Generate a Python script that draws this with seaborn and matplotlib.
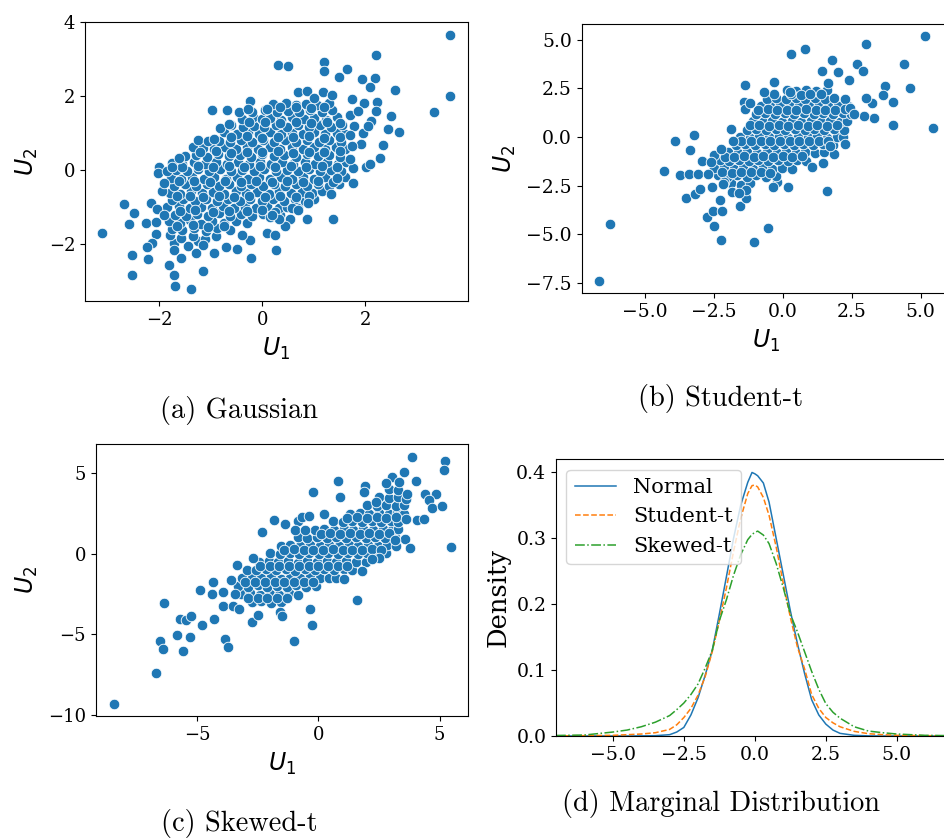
import matplotlib
matplotlib.use("Agg")
import matplotlib.pyplot as plt
import numpy as np
import pandas as pd
import seaborn as sns

# ---------------- data ----------------
gauss_outer = [
    (-3.11,-1.69),(-2.69,-0.90),(-2.49,-1.15),(-2.58,-1.46),(-2.52,-2.30),(-2.53,-2.83),(-2.22,-2.39),
    (-2.15,-0.87),(-2.26,-1.43),(-2.06,-1.40),(-2.06,-1.72),(-2.14,-1.97),(-2.24,-2.06),(-2.05,-1.05),
    (-2.01,0.10),(-2.03,-0.06),(-1.84,-0.02),(-1.76,0.10),(-1.81,-2.56),(-1.71,-2.15),(-1.71,-2.83),
    (-1.70,-3.12),(-1.57,-2.38),(-1.39,-3.20),(-1.15,-2.72),(-0.94,-2.23),(-1.61,0.34),(-0.98,1.62),
    (-0.68,1.63),(-0.45,1.58),(-0.23,1.87),(-0.28,1.66),(0.10,1.66),(0.31,2.86),(0.49,2.83),(-0.83,1.14),
    (-0.94,0.85),(-0.64,1.25),(-0.49,-2.13),(-0.21,-2.37),(0.27,-2.16),(-0.23,-1.87),(0.10,-1.70),
    (-0.70,-2.06),(-1.29,-2.23),(-1.15,-2.02),(3.64,3.66),(3.64,2.00),(3.33,1.58),(2.21,3.12),(1.20,2.92),
    (1.20,2.69),(1.65,2.74),(1.48,2.53),(1.93,2.48),(2.19,2.51),(2.09,2.26),(2.57,2.18),(2.23,1.85),
    (2.49,1.48),(2.65,1.05),(2.44,1.12),(2.35,0.68),(2.29,0.34),(2.01,0.08),(1.76,0.06),(2.08,0.18),
    (1.37,-1.31),(0.87,-1.31),(0.69,2.11),(0.87,2.14),(1.17,2.12),(1.74,1.92),(1.97,1.83),(2.11,1.34),
    (1.92,0.71),(1.74,0.66),(1.44,-0.21),(1.33,-0.63),(0.88,-0.87),(0.57,-1.01),(0.70,-1.07),(0.54,-1.31),
    (0.44,-1.50),(0.25,-1.74),(0.32,-1.32),(0.18,-1.21),(1.00,1.95),(1.35,2.05),(1.70,1.50),(1.78,1.20),
    (1.85,1.60),(2.20,1.60),(1.95,1.00),(2.05,1.20),(1.70,0.30),(1.70,0.95),(1.75,-0.35),(-0.40,-1.75),
    (-1.90,-1.20),(-1.95,-0.55),(-1.90,-0.35),
]
gauss_core = [
    (-1.72,-1.95),(-1.45,-2.05),(-1.25,-1.92),
    (-1.80,-1.75),(-1.58,-1.82),(-1.35,-1.78),(-1.12,-1.85),(-0.90,-1.76),
    (-1.75,-1.58),(-1.55,-1.62),(-1.32,-1.55),(-1.10,-1.63),(-0.88,-1.57),(-0.62,-1.60),
    (-1.82,-1.38),(-1.60,-1.42),(-1.40,-1.35),(-1.18,-1.44),(-0.97,-1.37),(-0.75,-1.42),(-0.52,-1.36),(-0.30,-1.43),
    (-1.70,-1.20),(-1.48,-1.24),(-1.27,-1.17),(-1.05,-1.22),(-0.84,-1.16),(-0.62,-1.23),(-0.41,-1.18),(-0.20,-1.22),
    (0.02,-1.17),(0.15,-1.25),(0.35,-1.20),
    (-1.85,-1.00),(-1.62,-0.97),(-1.40,-1.03),(-1.19,-0.98),(-0.98,-1.02),(-0.76,-0.96),(-0.55,-1.03),(-0.33,-0.99),
    (-0.12,-1.02),(0.10,-0.97),(0.32,-1.03),(0.48,-0.98),(0.70,-1.02),
    (-1.75,-0.80),(-1.53,-0.77),(-1.30,-0.83),(-1.09,-0.78),(-0.87,-0.82),(-0.66,-0.77),(-0.44,-0.83),(-0.23,-0.78),
    (-0.01,-0.82),(0.20,-0.77),(0.42,-0.83),(0.63,-0.78),(0.82,-0.82),(1.00,-0.78),
    (-1.80,-0.60),(-1.60,-0.63),(-1.38,-0.57),(-1.17,-0.62),(-0.95,-0.58),(-0.74,-0.63),(-0.52,-0.57),(-0.31,-0.62),
    (-0.10,-0.58),(0.12,-0.63),(0.33,-0.57),(0.55,-0.62),(0.76,-0.58),(0.97,-0.62),(1.15,-0.57),
    (-1.72,-0.42),(-1.50,-0.37),(-1.28,-0.43),(-1.07,-0.38),(-0.85,-0.42),(-0.64,-0.37),(-0.42,-0.43),(-0.21,-0.38),
    (0.01,-0.42),(0.22,-0.37),(0.44,-0.43),(0.65,-0.38),(0.87,-0.42),(1.08,-0.37),(1.30,-0.43),(1.48,-0.38),
    (-1.78,-0.20),(-1.57,-0.23),(-1.36,-0.17),(-1.14,-0.22),(-0.93,-0.18),(-0.71,-0.23),(-0.50,-0.17),(-0.28,-0.22),
    (-0.07,-0.18),(0.15,-0.23),(0.36,-0.17),(0.58,-0.22),(0.79,-0.18),(1.01,-0.23),(1.22,-0.17),(1.44,-0.22),(1.60,-0.18),
    (-1.68,0.02),(-1.46,-0.03),(-1.25,0.03),(-1.03,-0.02),(-0.82,0.03),(-0.60,-0.03),(-0.39,0.02),(-0.17,-0.02),
    (0.04,0.03),(0.26,-0.03),(0.47,0.02),(0.69,-0.02),(0.90,0.03),(1.12,-0.03),(1.33,0.02),(1.52,-0.02),
    (-1.76,0.20),(-1.55,0.17),(-1.33,0.23),(-1.12,0.18),(-0.90,0.22),(-0.69,0.17),(-0.47,0.23),(-0.26,0.18),
    (-0.04,0.22),(0.17,0.17),(0.39,0.23),(0.60,0.18),(0.82,0.22),(1.03,0.17),(1.25,0.23),(1.46,0.18),(1.62,0.22),
    (-1.50,0.38),(-1.29,0.42),(-1.07,0.37),(-0.86,0.43),(-0.64,0.38),(-0.43,0.42),(-0.21,0.37),(0.00,0.43),
    (0.22,0.38),(0.43,0.42),(0.65,0.37),(0.86,0.43),(1.08,0.38),(1.29,0.42),(1.50,0.37),
    (-1.35,0.62),(-1.15,0.60),(-0.94,0.57),(-0.72,0.63),(-0.51,0.58),(-0.29,0.62),(-0.08,0.57),(0.14,0.63),
    (0.35,0.58),(0.57,0.62),(0.78,0.57),(1.00,0.63),(1.21,0.58),(1.42,0.62),(1.60,0.57),
    (-1.25,0.83),(-1.05,0.80),(-0.85,0.80),(-0.63,0.77),(-0.42,0.83),(-0.20,0.78),(0.01,0.82),(0.23,0.77),
    (0.44,0.83),(0.66,0.78),(0.87,0.82),(1.09,0.77),(1.30,0.83),(1.52,0.78),
    (-0.75,1.05),(-0.50,0.98),(-0.28,1.02),(-0.07,0.97),(0.15,1.03),(0.36,0.98),(0.58,1.02),(0.79,0.97),
    (1.01,1.03),(1.22,0.98),(1.44,1.02),(1.60,0.97),
    (-0.60,1.22),(-0.38,1.17),(-0.17,1.20),(0.04,1.17),(0.26,1.23),(0.47,1.18),(0.69,1.22),(0.90,1.17),
    (1.12,1.23),(1.33,1.18),(1.55,1.22),
    (-0.40,1.40),(-0.18,1.43),(0.00,1.38),(0.15,1.42),(0.37,1.37),(0.58,1.43),(0.80,1.38),(1.01,1.42),
    (1.23,1.37),(1.44,1.43),
    (-0.20,1.58),(0.05,1.62),(0.28,1.57),(0.50,1.60),(0.72,1.57),(0.93,1.63),(1.15,1.58),(1.36,1.62),
    (0.20,1.80),(0.45,1.83),(0.65,1.78),(0.85,1.80),(1.07,1.77),(1.30,1.83),
]
gauss_fill = [
    (-1.60,-1.10),(-1.30,-1.08),(-0.95,-1.12),(-0.65,-1.09),(-0.30,-1.11),(0.00,-1.08),(0.25,-1.12),
    (-1.65,-0.70),(-1.40,-0.68),(-1.15,-0.72),(-0.85,-0.69),(-0.55,-0.71),(-0.25,-0.68),(0.05,-0.72),
    (0.35,-0.69),(0.65,-0.71),(0.90,-0.68),
    (-1.62,-0.30),(-1.32,-0.28),(-1.02,-0.32),(-0.72,-0.29),(-0.42,-0.31),(-0.12,-0.28),(0.18,-0.32),
    (0.48,-0.29),(0.78,-0.31),(1.08,-0.28),(1.38,-0.32),
    (-1.55,0.10),(-1.25,0.12),(-0.95,0.08),(-0.65,0.11),(-0.35,0.09),(-0.05,0.12),(0.25,0.08),(0.55,0.11),
    (0.85,0.09),(1.15,0.12),(1.45,0.08),
    (-1.20,0.50),(-0.90,0.52),(-0.60,0.48),(-0.30,0.51),(0.00,0.49),(0.30,0.52),(0.60,0.48),(0.90,0.51),
    (1.20,0.49),(1.50,0.52),
    (-0.60,0.90),(-0.30,0.92),(0.00,0.88),(0.30,0.91),(0.60,0.89),(0.90,0.92),(1.20,0.88),(1.50,0.91),
    (-0.25,1.30),(0.05,1.32),(0.35,1.28),(0.65,1.31),(0.95,1.29),(1.25,1.32),(1.50,1.28),
    (-1.65,-1.50),(-1.35,-1.48),(-1.05,-1.52),(-0.75,-1.49),
    (0.35,1.70),(0.65,1.72),(0.95,1.68),(1.20,1.71),
]

student_outer = [
    (-6.65,-7.37),(-6.26,-4.44),(-4.31,-1.75),(-3.90,-0.19),(-3.22,0.09),(-3.35,-0.67),(-3.73,-1.97),
    (-3.39,-1.90),(-3.06,-1.90),(-2.93,-1.25),(-3.49,-3.15),(-3.19,-2.90),(-2.98,-2.69),(-2.75,-4.10),
    (-2.51,-3.80),(-2.20,-3.80),(-2.49,-4.54),(-2.23,-5.30),(-2.56,-2.54),(-2.27,-3.22),(-2.11,-2.30),
    (-1.56,-3.56),(-1.33,-3.14),(-1.33,-2.74),(-1.04,-5.38),(-0.54,-4.68),(0.18,-2.55),(-0.34,-2.57),
    (1.59,-2.79),(1.06,-1.54),(1.47,-1.34),(-1.36,2.69),(-1.41,1.78),(0.31,4.28),(0.79,4.51),(-0.33,2.84),
    (-0.66,2.30),(1.41,3.38),(1.78,3.94),(2.00,3.36),(2.68,3.77),(2.90,3.41),(3.03,4.80),(2.39,2.91),
    (5.17,5.18),(4.38,3.74),(4.60,2.54),(3.70,2.60),(3.64,2.16),(3.99,1.82),(4.01,0.62),(5.45,0.45),
    (3.32,0.98),(3.22,1.77),(3.03,1.99),(2.93,1.08),(2.26,-0.33),(1.85,-0.86),(1.71,-0.48),(1.63,2.76),
    (0.27,2.30),(-2.50,-0.90),(-2.25,-0.60),(-2.60,-1.30),(-2.15,-2.40),(-1.85,-2.80),(-1.60,-2.85),
    (-1.87,0.43),(-1.35,1.45),(-1.20,1.75),(2.45,1.50),(2.60,1.20),(-2.70,-1.90),(-1.80,-0.20),
]
student_core = [
    (-1.88,-2.35),(-1.52,-2.45),(-1.18,-2.38),(-0.20,-2.30),
    (-2.35,-1.97),(-2.02,-2.05),(-1.66,-1.95),(-1.30,-2.04),(-0.95,-1.96),(-0.60,-2.05),(-0.25,-1.98),
    (-2.48,-1.60),(-2.12,-1.55),(-1.78,-1.64),(-1.43,-1.57),(-1.07,-1.63),(-0.72,-1.56),(-0.38,-1.63),(-0.03,-1.57),(0.33,-1.62),
    (-2.28,-1.20),(-1.93,-1.24),(-1.58,-1.17),(-1.22,-1.23),(-0.88,-1.16),(-0.52,-1.24),(-0.17,-1.17),(0.18,-1.23),(0.53,-1.18),(0.86,-1.22),
    (-1.98,-0.78),(-1.63,-0.83),(-1.28,-0.77),(-0.93,-0.82),(-0.58,-0.77),(-0.22,-0.83),(0.12,-0.78),(0.47,-0.82),(0.82,-0.77),(1.17,-0.83),(1.48,-0.78),
    (-1.70,-0.42),(-1.35,-0.37),(-1.00,-0.43),(-0.65,-0.38),(-0.30,-0.42),(0.05,-0.37),(0.40,-0.43),(0.75,-0.38),(1.10,-0.42),(1.45,-0.37),(1.82,-0.41),
    (-1.55,0.02),(-1.20,-0.03),(-0.85,0.03),(-0.50,-0.02),(-0.15,0.03),(0.20,-0.03),(0.55,0.02),(0.90,-0.02),(1.25,0.03),(1.60,-0.03),(1.95,0.02),(2.20,-0.02),
    (-1.30,0.38),(-0.95,0.43),(-0.60,0.37),(-0.25,0.42),(0.10,0.38),(0.45,0.43),(0.80,0.37),(1.15,0.42),(1.50,0.38),(1.85,0.43),(2.22,0.37),
    (-1.08,0.82),(-0.73,0.77),(-0.38,0.83),(-0.03,0.78),(0.32,0.82),(0.67,0.77),(1.02,0.83),(1.37,0.78),(1.72,0.82),(2.07,0.77),(2.32,0.83),
    (-0.98,1.18),(-0.63,1.23),(-0.28,1.17),(0.07,1.22),(0.42,1.18),(0.77,1.23),(1.12,1.17),(1.47,1.22),(1.82,1.18),(2.17,1.23),(2.48,1.17),
    (-0.80,1.62),(-0.45,1.57),(-0.10,1.63),(0.25,1.58),(0.60,1.62),(0.95,1.57),(1.30,1.63),(1.65,1.58),(2.00,1.62),(2.35,1.57),
    (-0.58,1.98),(-0.23,2.03),(0.12,1.97),(0.47,2.02),(0.82,1.98),(1.17,2.03),(1.52,1.97),(1.87,2.02),(2.25,1.98),
    (0.15,2.40),(0.50,2.35),(0.85,2.43),(1.20,2.38),(1.60,2.42),
]
student_fill = [
    (-2.10,-1.00),(-1.75,-1.02),(-1.40,-0.98),(-1.05,-1.01),(-0.70,-0.99),(-0.35,-1.02),(0.00,-0.98),
    (0.35,-1.01),(0.70,-0.99),
    (-1.50,-0.20),(-1.15,-0.18),(-0.80,-0.22),(-0.45,-0.19),(-0.10,-0.21),(0.25,-0.18),(0.60,-0.22),
    (0.95,-0.19),(1.30,-0.21),(1.65,-0.18),
    (-1.20,0.60),(-0.85,0.62),(-0.50,0.58),(-0.15,0.61),(0.20,0.59),(0.55,0.62),(0.90,0.58),(1.25,0.61),
    (1.60,0.59),(1.95,0.62),
    (-0.90,1.40),(-0.55,1.42),(-0.20,1.38),(0.15,1.41),(0.50,1.39),(0.85,1.42),(1.20,1.38),(1.55,1.41),
    (1.90,1.39),(2.25,1.42),
    (-2.20,-1.80),(-1.85,-1.82),(-1.50,-1.78),(-1.15,-1.81),(-0.80,-1.79),(-0.45,-1.82),
    (-0.30,2.20),(0.30,2.22),(0.65,2.18),(1.00,2.21),(1.40,2.19),
]

skewed_outer = [
    (-8.42,-9.34),(-6.67,-7.41),(-6.52,-5.42),(-6.38,-5.90),(-6.34,-3.04),(-5.56,-6.02),(-5.81,-5.01),
    (-5.30,-5.13),(-5.68,-4.02),(-5.44,-4.12),(-5.25,-3.85),(-4.80,-4.43),(-4.86,-2.22),(-4.39,-2.51),
    (-4.33,-1.78),(-4.30,-4.02),(-3.92,-2.40),(-3.92,-3.23),(-3.83,-5.28),(-3.70,-5.80),(-3.33,-0.68),
    (-3.50,-3.21),(-3.28,-3.42),(-2.73,-4.22),(-2.50,-3.81),(-2.70,-0.23),(-2.30,1.35),(-1.83,2.09),
    (-1.58,-3.58),(-1.48,-3.85),(-1.02,-5.42),(-0.33,-3.44),(-0.27,-4.43),(-0.22,3.81),(0.81,4.49),
    (0.89,3.54),(1.61,-2.84),(1.79,-1.06),(1.07,-1.57),(0.23,2.48),(3.88,6.02),(5.20,5.73),(5.16,5.18),
    (3.52,5.05),(3.05,4.78),(4.04,4.49),(4.40,3.71),(4.85,3.69),(4.55,3.31),(4.67,2.84),(5.08,2.98),
    (4.06,2.09),(4.36,2.15),(3.59,0.89),(3.77,0.37),(5.46,0.43),(3.61,2.15),(3.65,3.69),(3.31,4.43),
    (2.80,4.41),(1.94,4.22),(1.89,3.85),(2.39,3.23),(3.14,0.85),(2.49,-0.29),(2.23,-0.35),(-1.39,1.82),
    (-0.85,2.03),(-0.66,2.26),(-0.37,2.34),(-0.95,1.45),(-0.55,1.50),(-3.60,-1.60),(-3.45,-2.50),
]
skewed_core = [
    (-2.75,-3.02),(-2.35,-2.95),(-1.95,-3.05),(-1.55,-2.97),
    (-3.20,-2.50),(-2.80,-2.45),(-2.40,-2.55),(-2.00,-2.47),(-1.60,-2.53),(-1.20,-2.46),(-0.82,-2.54),
    (-3.30,-1.97),(-2.90,-2.03),(-2.50,-1.96),(-2.10,-2.04),(-1.70,-1.97),(-1.30,-2.03),(-0.90,-1.96),(-0.50,-2.04),(-0.10,-1.98),
    (-3.15,-1.52),(-2.75,-1.47),(-2.35,-1.53),(-1.95,-1.46),(-1.55,-1.54),(-1.15,-1.47),(-0.75,-1.53),(-0.35,-1.46),(0.05,-1.52),(0.45,-1.47),(0.72,-1.53),
    (-2.95,-0.98),(-2.55,-1.03),(-2.15,-0.97),(-1.75,-1.02),(-1.35,-0.96),(-0.95,-1.04),(-0.55,-0.97),(-0.15,-1.03),(0.25,-0.96),(0.65,-1.02),(1.05,-0.97),(1.40,-1.03),
    (-2.45,-0.52),(-2.05,-0.47),(-1.65,-0.53),(-1.25,-0.46),(-0.85,-0.54),(-0.45,-0.47),(-0.05,-0.53),(0.35,-0.46),(0.75,-0.52),(1.15,-0.47),(1.55,-0.53),(1.95,-0.48),
    (-1.98,0.02),(-1.58,-0.03),(-1.18,0.03),(-0.78,-0.02),(-0.38,0.04),(0.02,-0.03),(0.42,0.03),(0.82,-0.02),(1.22,0.03),(1.62,-0.03),(2.02,0.02),(2.42,-0.02),(2.78,0.03),
    (-1.55,0.48),(-1.15,0.53),(-0.75,0.47),(-0.35,0.54),(0.05,0.46),(0.45,0.53),(0.85,0.47),(1.25,0.52),(1.65,0.46),(2.05,0.54),(2.45,0.47),(2.85,0.53),(3.22,0.48),
    (-0.85,1.02),(-0.45,0.97),(-0.05,1.03),(0.35,0.96),(0.75,1.04),(1.15,0.97),(1.55,1.03),(1.95,0.96),(2.35,1.02),(2.75,0.97),(3.15,1.03),
    (-0.15,1.47),(0.25,1.53),(0.65,1.46),(1.05,1.54),(1.45,1.47),(1.85,1.53),(2.25,1.46),(2.65,1.52),(3.05,1.47),(3.30,1.53),
    (0.60,2.02),(1.00,1.97),(1.40,2.03),(1.80,1.96),(2.20,2.04),(2.60,1.97),(3.00,2.03),(3.30,1.97),
    (1.30,2.48),(1.70,2.53),(2.10,2.46),(2.50,2.54),(2.90,2.47),(3.25,2.52),(3.55,2.45),
    (2.00,3.02),(2.40,2.97),(2.80,3.03),(3.20,2.96),(3.55,3.05),
    (2.50,3.50),(2.90,3.45),(3.30,3.55),(3.60,3.40),
    (2.90,4.00),(3.30,3.95),
]
skewed_fill = [
    (-3.00,-1.75),(-2.60,-1.73),(-2.20,-1.77),(-1.80,-1.74),(-1.40,-1.76),(-1.00,-1.73),(-0.60,-1.77),(-0.20,-1.74),
    (-2.40,-0.75),(-2.00,-0.73),(-1.60,-0.77),(-1.20,-0.74),(-0.80,-0.76),(-0.40,-0.73),(0.00,-0.77),(0.40,-0.74),
    (0.80,-0.76),(1.20,-0.73),
    (-1.40,0.25),(-1.00,0.27),(-0.60,0.23),(-0.20,0.26),(0.20,0.24),(0.60,0.27),(1.00,0.23),(1.40,0.26),
    (1.80,0.24),(2.20,0.27),(2.60,0.23),
    (0.10,1.25),(0.50,1.27),(0.90,1.23),(1.30,1.26),(1.70,1.24),(2.10,1.27),(2.50,1.23),(2.90,1.26),
    (1.20,2.25),(1.60,2.27),(2.00,2.23),(2.40,2.26),(2.80,2.24),(3.20,2.27),
    (-2.90,-2.75),(-2.50,-2.73),(-2.10,-2.77),(-1.70,-2.74),(-1.30,-2.76),
]

# marginal density curves (panel d)
dens_x = [-7, -6, -5, -4.5, -4, -3.5, -3, -2.75, -2.5, -2.25, -2, -1.75, -1.5, -1.25, -1, -0.75,
          -0.5, -0.25, -0.1, 0, 0.1, 0.3, 0.5, 0.75, 1, 1.25, 1.5, 1.75, 2, 2.25, 2.5, 2.75, 3,
          3.5, 4, 4.5, 5, 6, 7]
dens_normal = [0, 0, 0, 0, 0.0002, 0.0005, 0.002, 0.006, 0.013, 0.032, 0.058, 0.092, 0.130, 0.185,
               0.242, 0.300, 0.350, 0.385, 0.400, 0.398, 0.395, 0.384, 0.355, 0.300, 0.245, 0.190,
               0.140, 0.095, 0.055, 0.032, 0.018, 0.009, 0.004, 0.001, 0.0002, 0, 0, 0, 0]
dens_student = [0.0002, 0.0005, 0.001, 0.002, 0.003, 0.005, 0.010, 0.017, 0.028, 0.042, 0.062, 0.090,
                0.128, 0.175, 0.225, 0.280, 0.330, 0.368, 0.380, 0.381, 0.378, 0.362, 0.335, 0.287,
                0.232, 0.180, 0.135, 0.102, 0.063, 0.042, 0.028, 0.020, 0.014, 0.007, 0.0035, 0.002,
                0.001, 0.0005, 0.0002]
dens_skewed = [0.0008, 0.0015, 0.006, 0.009, 0.014, 0.021, 0.031, 0.040, 0.050, 0.063, 0.079, 0.103,
               0.130, 0.175, 0.207, 0.244, 0.275, 0.298, 0.306, 0.309, 0.311, 0.305, 0.292, 0.262,
               0.225, 0.185, 0.158, 0.128, 0.098, 0.071, 0.049, 0.036, 0.027, 0.014, 0.0075, 0.005,
               0.003, 0.001, 0.0005]

captions = ["(a) Gaussian", "(b) Student-t", "(c) Skewed-t", "(d) Marginal Distribution"]

# ---------------- figure ----------------
plt.rcParams['font.family'] = ['DejaVu Serif']
plt.rcParams['mathtext.fontset'] = 'dejavusans'
plt.rcParams['axes.unicode_minus'] = True

W, H = 944, 838
fig = plt.figure(figsize=(W / 100, H / 100), dpi=100)


def ax_px(l, t, r, b):
    return fig.add_axes([l / W, 1 - b / H, (r - l) / W, (b - t) / H])


def scatter_panel(ax, core, fill, outer, xlim, ylim, xticks, yticks, fs):
    pts = core + fill + outer
    df = pd.DataFrame(pts, columns=["U1", "U2"])
    sns.scatterplot(data=df, x="U1", y="U2", ax=ax, s=58, color="#1f77b4",
                    edgecolor="white", linewidth=0.6, legend=False)
    ax.set_xlim(*xlim)
    ax.set_ylim(*ylim)
    ax.set_xticks(xticks)
    ax.set_yticks(yticks)
    ax.tick_params(labelsize=fs)
    ax.set_xlabel(r"$U_1$", fontsize=17, labelpad=5)
    ax.set_ylabel(r"$U_2$", fontsize=17, labelpad=6)


ax_a = ax_px(85, 22, 468, 301)
scatter_panel(ax_a, gauss_core, gauss_fill, gauss_outer, (-3.44, 3.99), (-3.53, 4.01),
              [-2, 0, 2], [-2, 0, 2, 4], 13)

ax_b = ax_px(581.7, 24.3, 950, 293.3)
scatter_panel(ax_b, student_core, student_fill, student_outer, (-7.28, 6.06), (-8.02, 5.79),
              [-5, -2.5, 0, 2.5, 5], [-7.5, -5, -2.5, 0, 2.5, 5], 13.5)

ax_c = ax_px(95.7, 444, 468.3, 716)
scatter_panel(ax_c, skewed_core, skewed_fill, skewed_outer, (-9.17, 6.18), (-10.06, 6.81),
              [-5, 0, 5], [-10, -5, 0, 5], 13)

ax_d = ax_px(556, 459.3, 953.7, 736)
dd = pd.DataFrame({"x": dens_x, "Normal": dens_normal, "Student-t": dens_student,
                   "Skewed-t": dens_skewed})
sns.lineplot(data=dd, x="x", y="Normal", ax=ax_d, color="#1f77b4", lw=1.1,
             linestyle="-", label="Normal")
sns.lineplot(data=dd, x="x", y="Student-t", ax=ax_d, color="#ff7f0e", lw=1.1,
             linestyle="--", label="Student-t")
sns.lineplot(data=dd, x="x", y="Skewed-t", ax=ax_d, color="#2ca02c", lw=1.1,
             linestyle="-.", label="Skewed-t")
ax_d.set_xlim(-7, 7)
ax_d.set_ylim(0, 0.42)
ax_d.set_xticks([-5, -2.5, 0, 2.5, 5])
ax_d.set_yticks([0, 0.1, 0.2, 0.3, 0.4])
ax_d.tick_params(labelsize=13.6)
ax_d.set_xlabel("")
ax_d.set_ylabel("Density", fontsize=18.5)
ax_d.legend(loc="upper left", fontsize=15)

cap_pos = [(239, 410), (721, 398), (239, 823), (721, 803)]
for (cx, cy), txt in zip(cap_pos, captions):
    fig.text(cx / W, 1 - cy / H, txt, family="cmr10", fontsize=20.4,
             ha="center", va="center")

fig.savefig("out.png", dpi=100)
